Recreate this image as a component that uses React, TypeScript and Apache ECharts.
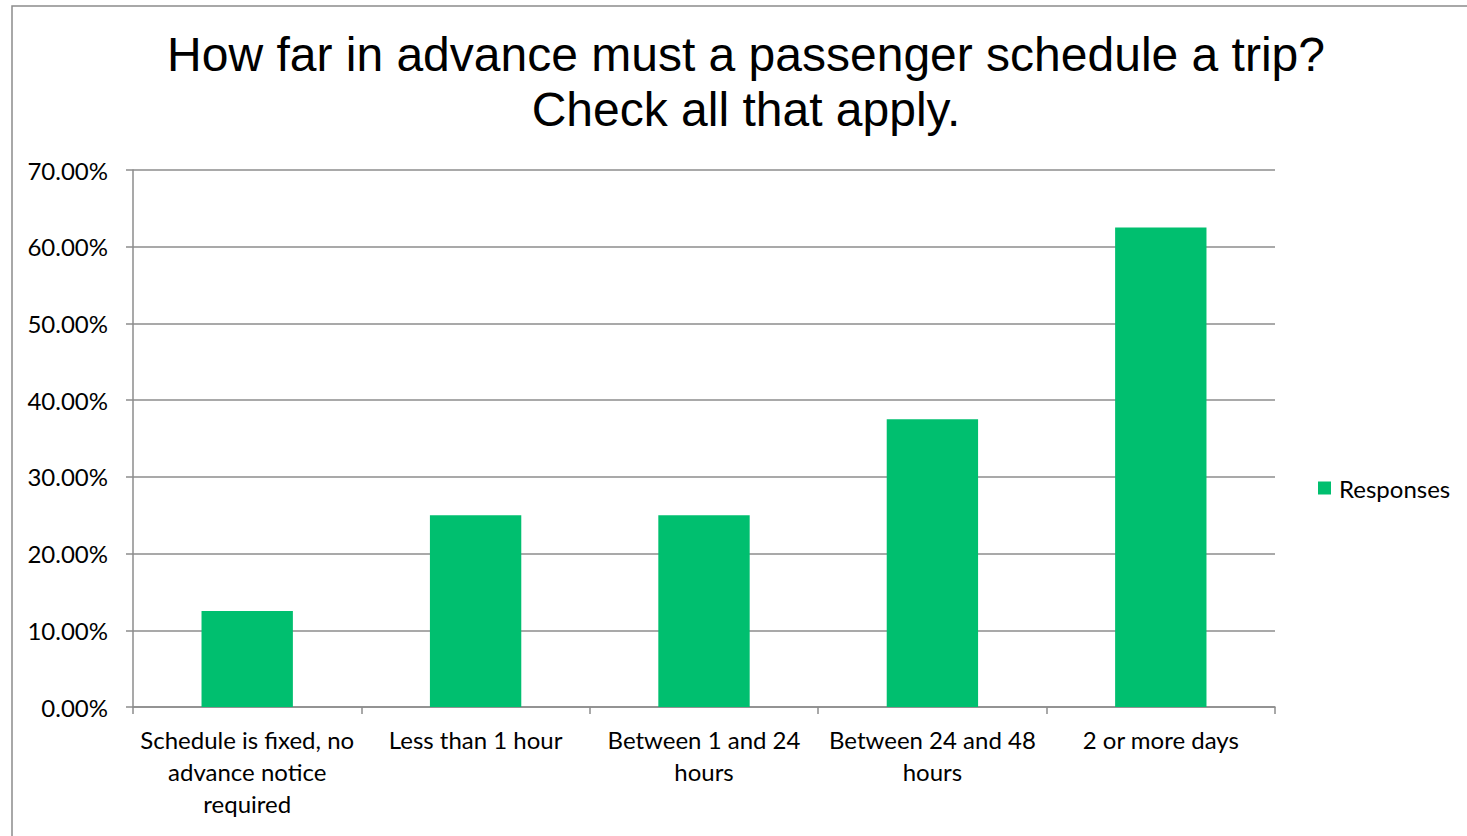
import React, { useEffect, useRef } from "react";
import * as echarts from "echarts";

const categories = [
  "Schedule is fixed, no\nadvance notice\nrequired",
  "Less than 1 hour",
  "Between 1 and 24\nhours",
  "Between 24 and 48\nhours",
  "2 or more days",
];
const responses = [0.125, 0.25, 0.25, 0.375, 0.625];
const titleLines = ["How far in advance must a passenger schedule a trip?", "Check all that apply."];
const seriesName = "Responses";

export default function App() {
  const ref = useRef<HTMLDivElement>(null);
  useEffect(() => {
    const chart = echarts.init(ref.current!, null, { renderer: "svg" });
    const labelFont = "Lato";
    chart.setOption({
      animation: false,
      backgroundColor: "#ffffff",
      title: {
        text: titleLines.join("\n"),
        left: 741,
        top: 22,
        textAlign: "center",
        textStyle: {
          fontFamily: "Liberation Sans",
          fontSize: 48,
          fontWeight: "normal",
          color: "#000",
          lineHeight: 55,
        },
      },
      graphic: [
        {
          type: "rect",
          shape: { x: 12, y: 6, width: 1500, height: 900 },
          style: { fill: "none", stroke: "#8c8c8c", lineWidth: 1.5 },
          silent: true,
          z: -1,
        },
      ],
      legend: {
        left: 1318,
        top: 476,
        padding: 0,
        itemWidth: 13,
        itemHeight: 13,
        icon: "rect",
        textStyle: { fontFamily: labelFont, fontSize: 24, color: "#000", padding: [0, 0, 0, 3] },
        data: [seriesName],
      },
      grid: { left: 133, right: 192, top: 170, bottom: 129 },
      xAxis: {
        type: "category",
        data: categories,
        axisLine: { lineStyle: { color: "#8c8c8c", width: 1.5 } },
        axisTick: { show: true, length: 7, lineStyle: { color: "#8c8c8c", width: 1.5 } },
        axisLabel: {
          interval: 0,
          fontFamily: labelFont,
          fontSize: 24,
          color: "#000",
          lineHeight: 32,
          margin: 16,
        },
      },
      yAxis: {
        type: "value",
        min: 0,
        max: 0.7,
        interval: 0.1,
        axisLine: { show: true, lineStyle: { color: "#8c8c8c", width: 1.5 } },
        axisTick: { show: true, length: 7, lineStyle: { color: "#8c8c8c", width: 1.5 } },
        splitLine: { lineStyle: { color: "#8c8c8c", width: 1.5 } },
        axisLabel: {
          formatter: (v: number) => (v * 100).toFixed(2) + "%",
          fontFamily: labelFont,
          fontSize: 24,
          color: "#000",
          margin: 25,
        },
      },
      series: [
        {
          name: seriesName,
          type: "bar",
          data: responses,
          barWidth: "40%",
          itemStyle: { color: "#00bf6f" },
        },
      ],
    });
    return () => chart.dispose();
  }, []);
  return (
    <div
      ref={ref}
      style={{ position: "fixed", left: 0, top: 0, width: 1467, height: 836 }}
    />
  );
}
